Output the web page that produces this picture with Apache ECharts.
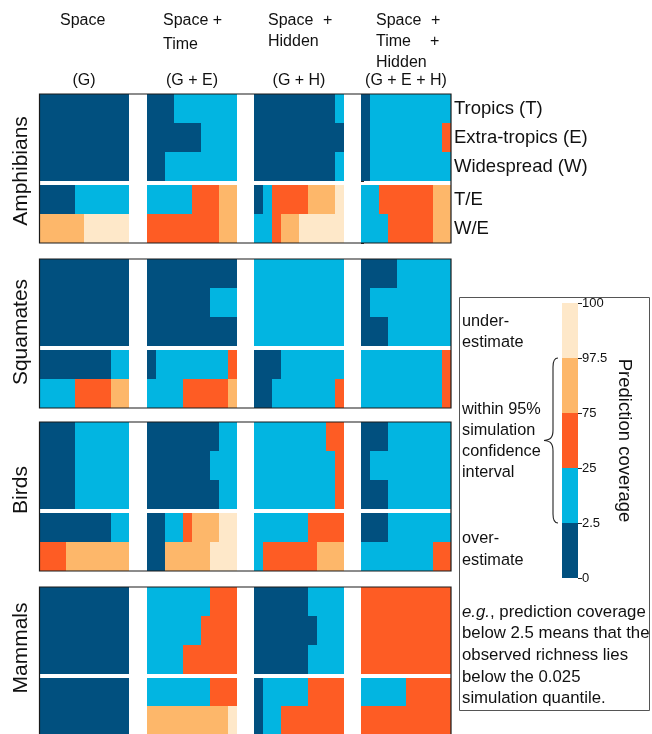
<!DOCTYPE html>
<html>
<head>
<meta charset="utf-8">
<script src="https://cdn.jsdelivr.net/npm/echarts@6/dist/echarts.min.js"></script>
<style>
  html, body { margin: 0; padding: 0; background: #fff; }
  #chart { width: 652px; height: 734px; }
</style>
</head>
<body>
<div id="chart"></div>
<script>
// Coverage classes (share of the observed richness falling into each simulation band)
const coverageClasses = ['0–2.5', '2.5–25', '25–75', '75–97.5', '97.5–100'];
const coverageTicks = ['0', '2.5', '25', '75', '97.5', '100'];
const classColors = ['#01507f', '#02b5e1', '#fe5c24', '#fdb76a', '#fee8c9'];

const taxa = ['Amphibians', 'Squamates', 'Birds', 'Mammals'];
const models = ['(G)', '(G + E)', '(G + H)', '(G + E + H)'];
const singleRegions = ['Tropics (T)', 'Extra-tropics (E)', 'Widespread (W)'];
const sharedRegions = ['T/E', 'W/E'];

// Percent in each coverage class; per model the rows are T, E, W, T/E, W/E
const amphibians = [
  [[100, 0, 0, 0, 0], [100, 0, 0, 0, 0], [100, 0, 0, 0, 0], [40, 60, 0, 0, 0], [0, 0, 0, 50, 50]],
  [[30, 70, 0, 0, 0], [60, 40, 0, 0, 0], [20, 80, 0, 0, 0], [0, 50, 30, 20, 0], [0, 0, 80, 20, 0]],
  [[90, 10, 0, 0, 0], [100, 0, 0, 0, 0], [90, 10, 0, 0, 0], [10, 10, 40, 30, 10], [0, 20, 10, 20, 50]],
  [[10, 90, 0, 0, 0], [10, 80, 10, 0, 0], [10, 90, 0, 0, 0], [0, 20, 60, 20, 0], [0, 30, 50, 20, 0]]
];
const squamates = [
  [[100, 0, 0, 0, 0], [100, 0, 0, 0, 0], [100, 0, 0, 0, 0], [80, 20, 0, 0, 0], [0, 40, 40, 20, 0]],
  [[100, 0, 0, 0, 0], [70, 30, 0, 0, 0], [100, 0, 0, 0, 0], [10, 80, 10, 0, 0], [0, 40, 50, 10, 0]],
  [[0, 100, 0, 0, 0], [0, 100, 0, 0, 0], [0, 100, 0, 0, 0], [30, 70, 0, 0, 0], [20, 70, 10, 0, 0]],
  [[40, 60, 0, 0, 0], [10, 90, 0, 0, 0], [30, 70, 0, 0, 0], [0, 90, 10, 0, 0], [0, 90, 10, 0, 0]]
];
const birds = [
  [[40, 60, 0, 0, 0], [40, 60, 0, 0, 0], [40, 60, 0, 0, 0], [80, 20, 0, 0, 0], [0, 0, 30, 70, 0]],
  [[80, 20, 0, 0, 0], [70, 30, 0, 0, 0], [80, 20, 0, 0, 0], [20, 20, 10, 30, 20], [20, 0, 0, 50, 30]],
  [[0, 80, 20, 0, 0], [0, 90, 10, 0, 0], [0, 90, 10, 0, 0], [0, 60, 40, 0, 0], [0, 10, 60, 30, 0]],
  [[30, 70, 0, 0, 0], [10, 90, 0, 0, 0], [30, 70, 0, 0, 0], [30, 70, 0, 0, 0], [0, 80, 20, 0, 0]]
];
const mammals = [
  [[100, 0, 0, 0, 0], [100, 0, 0, 0, 0], [100, 0, 0, 0, 0], [100, 0, 0, 0, 0], [100, 0, 0, 0, 0]],
  [[0, 70, 30, 0, 0], [0, 60, 40, 0, 0], [0, 40, 60, 0, 0], [0, 70, 30, 0, 0], [0, 0, 0, 90, 10]],
  [[60, 40, 0, 0, 0], [70, 30, 0, 0, 0], [60, 40, 0, 0, 0], [10, 50, 40, 0, 0], [10, 20, 70, 0, 0]],
  [[0, 0, 100, 0, 0], [0, 0, 100, 0, 0], [0, 0, 100, 0, 0], [0, 50, 50, 0, 0], [0, 0, 100, 0, 0]]
];
const taxonData = [amphibians, squamates, birds, mammals];

// ---- layout (pixels); whole-pixel row and column sizes keep block edges crisp ----
const FONT = "'Liberation Sans', Arial, Helvetica, sans-serif";
const colLeft = [39, 147, 254, 361];
const colWidth = 90;
const panelTop = [94, 259, 422, 587];
const topH = 87, sepH = 4, botH = 58;
const frameLeft = 39.5, frameWidth = 411.5;

const grids = [], xAxes = [], yAxes = [], series = [];

taxa.forEach((taxon, t) => {
  models.forEach((model, m) => {
    [0, 1].forEach(s => {
      const g = grids.length;
      const rows = s === 0 ? taxonData[t][m].slice(0, 3) : taxonData[t][m].slice(3);
      const labels = s === 0 ? singleRegions : sharedRegions;
      const withLabels = t === 0 && m === 3;
      grids.push({
        left: colLeft[m],
        top: s === 0 ? panelTop[t] : panelTop[t] + topH + sepH,
        width: colWidth,
        height: s === 0 ? topH : botH
      });
      xAxes.push({ type: 'value', gridIndex: g, min: 0, max: 100, show: false });
      yAxes.push({
        type: 'category', gridIndex: g, data: labels, inverse: true,
        position: 'right', show: withLabels,
        axisLine: { show: false },
        axisTick: { show: withLabels, length: 3, lineStyle: { color: '#222' } },
        axisLabel: { show: withLabels, margin: 3, color: '#111', fontSize: 18.5, fontFamily: FONT }
      });
      coverageClasses.forEach((cls, k) => {
        series.push({
          type: 'bar', name: cls, xAxisIndex: g, yAxisIndex: g, stack: 'stack' + g,
          barCategoryGap: '0%', silent: true,
          itemStyle: { color: classColors[k] },
          data: rows.map(r => r[k])
        });
      });
    });
  });
});

// colour bar: one equal-height block per coverage class
const cb = grids.length;
grids.push({ left: 562, top: 303, width: 16, height: 275 });
xAxes.push({ type: 'category', gridIndex: cb, data: ['coverage'], show: false });
yAxes.push({
  type: 'value', gridIndex: cb, min: 0, max: coverageClasses.length, interval: 1,
  position: 'right',
  axisLine: { show: false },
  splitLine: { show: false },
  axisTick: { show: true, length: 4, lineStyle: { color: '#222' } },
  axisLabel: { margin: 4, color: '#111', fontSize: 13, fontFamily: FONT, formatter: v => coverageTicks[v] },
  name: 'Prediction coverage', nameLocation: 'middle', nameRotate: -90, nameGap: 37,
  nameTextStyle: { color: '#111', fontSize: 18.5, fontFamily: FONT }
});
coverageClasses.forEach((cls, k) => {
  series.push({
    type: 'bar', name: cls, xAxisIndex: cb, yAxisIndex: cb, stack: 'colourbar',
    barWidth: '100%', silent: true, itemStyle: { color: classColors[k] }, data: [1]
  });
});

// ---- annotations ----
const graphic = [];
const txt = (text, x, y, opts = {}) => graphic.push({
  type: 'text', x, y, rotation: opts.rotation || 0, z: 50,
  style: Object.assign({
    text, fill: '#111', font: `${opts.size || 16}px ${FONT}`,
    textAlign: opts.align || 'left', textVerticalAlign: 'middle'
  }, opts.style || {})
});

// column headers
[['Space', 60, 21], ['Space +', 163, 21], ['Time', 163, 45],
 ['Space', 268, 21], ['+', 323, 21], ['Hidden', 268, 42],
 ['Space', 376, 21], ['+', 431, 21], ['Time', 376, 42], ['+', 430, 42], ['Hidden', 376, 63]]
  .forEach(([s, x, y]) => txt(s, x, y));
models.forEach((mLabel, m) => txt(mLabel, colLeft[m] + colWidth / 2, 81, { align: 'center' }));

// taxon labels
const taxonCentre = [171, 332, 490, 648];
taxa.forEach((taxon, t) => txt(taxon, 21.5, taxonCentre[t], { align: 'center', rotation: Math.PI / 2, size: 21 }));

// panel frames
panelTop.forEach(y => graphic.push({
  type: 'rect', z: 40, silent: true,
  shape: { x: frameLeft, y: y, width: frameWidth, height: topH + sepH + botH },
  style: { fill: 'none', stroke: '#1a1a1a', lineWidth: 1.2 }
}));

// legend box
graphic.push({
  type: 'rect', z: 40, silent: true,
  shape: { x: 459.5, y: 297.5, width: 190, height: 413 },
  style: { fill: 'none', stroke: '#555', lineWidth: 1 }
});
[['under-', 322], ['estimate', 343],
 ['within 95%', 410], ['simulation', 431], ['confidence', 452], ['interval', 473],
 ['over-', 539], ['estimate', 561]].forEach(([s, y]) => txt(s, 462, y, { size: 16.3 }));

// curly brace spanning the 2.5 – 97.5 band
const braceStyle = { fill: 'none', stroke: '#222', lineWidth: 1.1 };
const curve = (x1, y1, cpx1, cpy1, cpx2, cpy2, x2, y2) => graphic.push({
  type: 'bezierCurve', z: 45, silent: true,
  shape: { x1, y1, cpx1, cpy1, cpx2, cpy2, x2, y2 }, style: braceStyle
});
const seg = (x1, y1, x2, y2) => graphic.push({
  type: 'line', z: 45, silent: true, shape: { x1, y1, x2, y2 }, style: braceStyle
});
curve(558, 358, 554, 358, 553, 361, 553, 367);
seg(553, 367, 553, 430);
curve(553, 430, 553, 437, 551, 440, 544, 440.5);
curve(544, 440.5, 551, 441, 553, 444, 553, 451);
seg(553, 451, 553, 514);
curve(553, 514, 553, 520, 554, 523, 558, 523);

// footnote
graphic.push({
  type: 'text', x: 462, y: 612, z: 50,
  style: {
    text: '{i|e.g.}, prediction coverage', fill: '#111', font: `16.8px ${FONT}`,
    textVerticalAlign: 'middle',
    rich: { i: { fontStyle: 'italic', fontSize: 16.8, fontFamily: FONT, fill: '#111' } }
  }
});
[['below 2.5 means that the', 633], ['observed richness lies', 655],
 ['below the 0.025', 677], ['simulation quantile.', 698]].forEach(([s, y]) => txt(s, 462, y, { size: 16.8 }));

const chart = echarts.init(document.getElementById('chart'), null, { renderer: 'canvas' });
chart.setOption({
  animation: false,
  backgroundColor: '#fff',
  grid: grids,
  xAxis: xAxes,
  yAxis: yAxes,
  series: series,
  graphic: graphic
});
</script>
</body>
</html>
